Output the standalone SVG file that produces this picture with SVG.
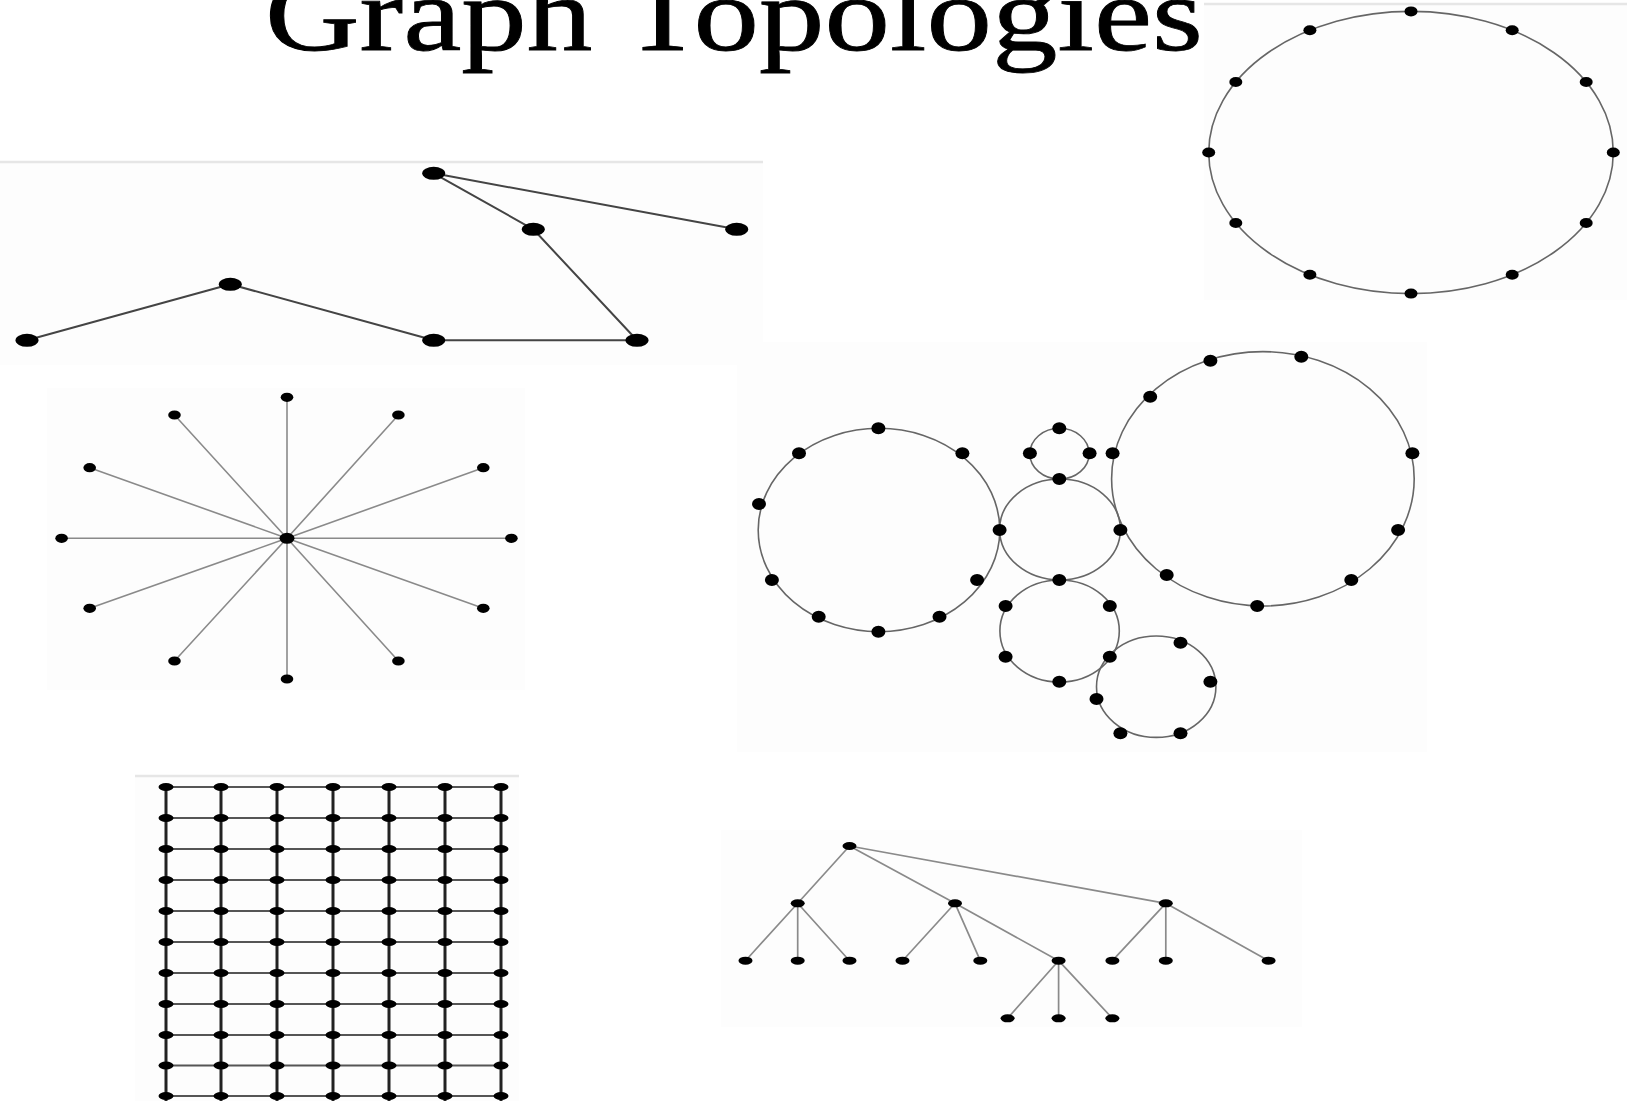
<svg xmlns="http://www.w3.org/2000/svg" xmlns:xlink="http://www.w3.org/1999/xlink" width="1627" height="1101" viewBox="0 0 1627 1101">
<style>
.bg{fill:#fdfdfd}
.rule{stroke:#e6e6e6;stroke-width:2.5}
.title{font-family:"Liberation Serif","DejaVu Serif",serif;font-size:106px;fill:#000;stroke:#000;stroke-width:0.8}
.e1{stroke:#444;stroke-width:2;fill:none}
.e2{stroke:#8a8a8a;stroke-width:1.6;fill:none}
.ring{stroke:#666;stroke-width:1.6;fill:none}
.gv{stroke:#222;stroke-width:3;fill:none}
.gh{stroke:#555;stroke-width:1.8;fill:none}
.tr{stroke:#8a8a8a;stroke-width:1.7;fill:none}
.n{fill:#000}
</style>
<defs>
<ellipse id="dp" rx="11.5" ry="6.5"/>
<ellipse id="dr" rx="6.5" ry="5"/>
<ellipse id="ds" rx="6.3" ry="4.6"/>
<ellipse id="dc" rx="7" ry="6"/>
<ellipse id="dg" rx="7.5" ry="4"/>
<ellipse id="dt" rx="7" ry="4"/>
</defs>
<rect width="1627" height="1101" fill="#fff"/>
<g id="panels">
<rect class="bg" x="1204" y="4" width="423" height="296"/>
<line class="rule" x1="1204" y1="4" x2="1627" y2="4"/>
<rect class="bg" x="0" y="162" width="763" height="203"/>
<line class="rule" x1="0" y1="162" x2="763" y2="162"/>
<rect class="bg" x="47" y="388" width="478" height="302"/>
<rect class="bg" x="737" y="342" width="690" height="410"/>
<rect class="bg" x="721" y="830" width="581" height="197"/>
<rect class="bg" x="135" y="776" width="384" height="325"/>
<line class="rule" x1="135" y1="776" x2="519" y2="776"/>
</g>
<text class="title" x="265" y="50" textLength="938" lengthAdjust="spacingAndGlyphs">Graph Topologies</text>
<g id="connectors">
<ellipse class="ring" cx="1411" cy="152.5" rx="202.3" ry="141.1"/>
<path class="e1" d="M433.7 173.3L533.3 229.3M433.7 173.3L736.7 229.3M533.3 229.3L637 340.3M27 340.3L230.3 284.3M230.3 284.3L433.7 340.3M433.7 340.3L637 340.3"/>
<path class="e2" d="M287 538.3L287 397.3M287 538.3L174.5 415M287 538.3L398.4 415M287 538.3L89.7 467.7M287 538.3L483.3 467.7M287 538.3L61.6 538.3M287 538.3L511.4 538.3M287 538.3L89.7 608.3M287 538.3L483.3 608.3M287 538.3L174.5 661M287 538.3L398.4 661M287 538.3L287 679"/>
<ellipse class="ring" cx="879" cy="530" rx="120.8" ry="101.7"/>
<ellipse class="ring" cx="1059.5" cy="453.7" rx="29.6" ry="25.4"/>
<ellipse class="ring" cx="1060" cy="529.5" rx="60.4" ry="50.5"/>
<ellipse class="ring" cx="1059.6" cy="631" rx="59.7" ry="51"/>
<ellipse class="ring" cx="1156.2" cy="686.7" rx="59.7" ry="50.7"/>
<ellipse class="ring" cx="1262.9" cy="478.8" rx="151.3" ry="127.2"/>
<path class="gv" d="M166 787V1101M221 787V1101M277 787V1101M333 787V1101M389 787V1101M445 787V1101M501 787V1101"/>
<path class="gh" d="M166 787H501M166 818H501M166 849H501M166 880H501M166 911H501M166 942H501M166 973H501M166 1004H501M166 1035H501M166 1065.5H501M166 1096H501"/>
<path class="tr" d="M849.5 846L797.7 903.3M849.5 846L955 903.3M849.5 846L1165.8 903.3M797.7 903.3L745.5 960.7M797.7 903.3L797.7 960.7M797.7 903.3L849.5 960.7M955 903.3L902.5 960.7M955 903.3L980.3 960.7M955 903.3L1058.6 960.7M1165.8 903.3L1112.4 960.7M1165.8 903.3L1165.8 960.7M1165.8 903.3L1268.6 960.7M1058.6 960.7L1007.6 1018.3M1058.6 960.7L1058.6 1018.3M1058.6 960.7L1112.4 1018.3"/>
</g>
<g id="ring-nodes" class="n">
<g id="r0"><use href="#dr" x="1411" y="11.4"/></g>
<g id="r1"><use href="#dr" x="1512.2" y="30.3"/></g>
<g id="r2"><use href="#dr" x="1586.2" y="82"/></g>
<g id="r3"><use href="#dr" x="1613.3" y="152.5"/></g>
<g id="r4"><use href="#dr" x="1586.2" y="223"/></g>
<g id="r5"><use href="#dr" x="1512.2" y="274.7"/></g>
<g id="r6"><use href="#dr" x="1411" y="293.6"/></g>
<g id="r7"><use href="#dr" x="1309.9" y="274.7"/></g>
<g id="r8"><use href="#dr" x="1235.8" y="223"/></g>
<g id="r9"><use href="#dr" x="1208.7" y="152.5"/></g>
<g id="r10"><use href="#dr" x="1235.8" y="82"/></g>
<g id="r11"><use href="#dr" x="1309.9" y="30.3"/></g>
</g>
<g id="path-nodes" class="n">
<g id="p1"><use href="#dp" x="433.7" y="173.3"/></g>
<g id="p2"><use href="#dp" x="533.3" y="229.3"/></g>
<g id="p3"><use href="#dp" x="736.7" y="229.3"/></g>
<g id="p4"><use href="#dp" x="230.3" y="284.3"/></g>
<g id="p5"><use href="#dp" x="27" y="340.3"/></g>
<g id="p6"><use href="#dp" x="433.7" y="340.3"/></g>
<g id="p7"><use href="#dp" x="637" y="340.3"/></g>
</g>
<g id="star-nodes" class="n">
<g id="s0"><ellipse cx="287" cy="538.3" rx="7.5" ry="5.5"/></g>
<g id="s1"><use href="#ds" x="287" y="397.3"/></g>
<g id="s2"><use href="#ds" x="174.5" y="415"/></g>
<g id="s3"><use href="#ds" x="398.4" y="415"/></g>
<g id="s4"><use href="#ds" x="89.7" y="467.7"/></g>
<g id="s5"><use href="#ds" x="483.3" y="467.7"/></g>
<g id="s6"><use href="#ds" x="61.6" y="538.3"/></g>
<g id="s7"><use href="#ds" x="511.4" y="538.3"/></g>
<g id="s8"><use href="#ds" x="89.7" y="608.3"/></g>
<g id="s9"><use href="#ds" x="483.3" y="608.3"/></g>
<g id="s10"><use href="#ds" x="174.5" y="661"/></g>
<g id="s11"><use href="#ds" x="398.4" y="661"/></g>
<g id="s12"><use href="#ds" x="287" y="679"/></g>
</g>
<g id="rings-nodes" class="n">
<g id="c1"><use href="#dc" x="878.4" y="428.3"/></g>
<g id="c2"><use href="#dc" x="799" y="453.3"/></g>
<g id="c3"><use href="#dc" x="962.4" y="453.3"/></g>
<g id="c4"><use href="#dc" x="759" y="504"/></g>
<g id="c5"><use href="#dc" x="999.6" y="530"/></g>
<g id="c6"><use href="#dc" x="771.9" y="580"/></g>
<g id="c7"><use href="#dc" x="977.1" y="580"/></g>
<g id="c8"><use href="#dc" x="818.7" y="616.7"/></g>
<g id="c9"><use href="#dc" x="939.5" y="616.7"/></g>
<g id="c10"><use href="#dc" x="878.4" y="631.7"/></g>
<g id="c11"><use href="#dc" x="1059.3" y="428.3"/></g>
<g id="c12"><use href="#dc" x="1029.9" y="453.3"/></g>
<g id="c13"><use href="#dc" x="1089.6" y="453.3"/></g>
<g id="c14"><use href="#dc" x="1059.3" y="479"/></g>
<g id="c15"><use href="#dc" x="1120.4" y="530"/></g>
<g id="c16"><use href="#dc" x="1059.3" y="580"/></g>
<g id="c17"><use href="#dc" x="1005.6" y="606"/></g>
<g id="c18"><use href="#dc" x="1109.8" y="606"/></g>
<g id="c19"><use href="#dc" x="1005.6" y="656.7"/></g>
<g id="c20"><use href="#dc" x="1109.8" y="656.7"/></g>
<g id="c21"><use href="#dc" x="1059.3" y="681.7"/></g>
<g id="c22"><use href="#dc" x="1180.5" y="642.7"/></g>
<g id="c23"><use href="#dc" x="1210.4" y="681.7"/></g>
<g id="c24"><use href="#dc" x="1096.5" y="699"/></g>
<g id="c25"><use href="#dc" x="1120.4" y="733.3"/></g>
<g id="c26"><use href="#dc" x="1180.5" y="733.3"/></g>
<g id="c27"><use href="#dc" x="1210.4" y="360.7"/></g>
<g id="c28"><use href="#dc" x="1301.3" y="356.7"/></g>
<g id="c29"><use href="#dc" x="1150.2" y="396.7"/></g>
<g id="c30"><use href="#dc" x="1112.6" y="453.3"/></g>
<g id="c31"><use href="#dc" x="1412.4" y="453.3"/></g>
<g id="c32"><use href="#dc" x="1398.1" y="530"/></g>
<g id="c33"><use href="#dc" x="1166.7" y="575"/></g>
<g id="c34"><use href="#dc" x="1351.3" y="580"/></g>
<g id="c35"><use href="#dc" x="1257.2" y="606"/></g>
</g>
<g id="mesh-nodes" class="n">
<g id="m0-0"><use href="#dg" x="166" y="787"/></g><g id="m0-1"><use href="#dg" x="221" y="787"/></g><g id="m0-2"><use href="#dg" x="277" y="787"/></g><g id="m0-3"><use href="#dg" x="333" y="787"/></g><g id="m0-4"><use href="#dg" x="389" y="787"/></g><g id="m0-5"><use href="#dg" x="445" y="787"/></g><g id="m0-6"><use href="#dg" x="501" y="787"/></g>
<g id="m1-0"><use href="#dg" x="166" y="818"/></g><g id="m1-1"><use href="#dg" x="221" y="818"/></g><g id="m1-2"><use href="#dg" x="277" y="818"/></g><g id="m1-3"><use href="#dg" x="333" y="818"/></g><g id="m1-4"><use href="#dg" x="389" y="818"/></g><g id="m1-5"><use href="#dg" x="445" y="818"/></g><g id="m1-6"><use href="#dg" x="501" y="818"/></g>
<g id="m2-0"><use href="#dg" x="166" y="849"/></g><g id="m2-1"><use href="#dg" x="221" y="849"/></g><g id="m2-2"><use href="#dg" x="277" y="849"/></g><g id="m2-3"><use href="#dg" x="333" y="849"/></g><g id="m2-4"><use href="#dg" x="389" y="849"/></g><g id="m2-5"><use href="#dg" x="445" y="849"/></g><g id="m2-6"><use href="#dg" x="501" y="849"/></g>
<g id="m3-0"><use href="#dg" x="166" y="880"/></g><g id="m3-1"><use href="#dg" x="221" y="880"/></g><g id="m3-2"><use href="#dg" x="277" y="880"/></g><g id="m3-3"><use href="#dg" x="333" y="880"/></g><g id="m3-4"><use href="#dg" x="389" y="880"/></g><g id="m3-5"><use href="#dg" x="445" y="880"/></g><g id="m3-6"><use href="#dg" x="501" y="880"/></g>
<g id="m4-0"><use href="#dg" x="166" y="911"/></g><g id="m4-1"><use href="#dg" x="221" y="911"/></g><g id="m4-2"><use href="#dg" x="277" y="911"/></g><g id="m4-3"><use href="#dg" x="333" y="911"/></g><g id="m4-4"><use href="#dg" x="389" y="911"/></g><g id="m4-5"><use href="#dg" x="445" y="911"/></g><g id="m4-6"><use href="#dg" x="501" y="911"/></g>
<g id="m5-0"><use href="#dg" x="166" y="942"/></g><g id="m5-1"><use href="#dg" x="221" y="942"/></g><g id="m5-2"><use href="#dg" x="277" y="942"/></g><g id="m5-3"><use href="#dg" x="333" y="942"/></g><g id="m5-4"><use href="#dg" x="389" y="942"/></g><g id="m5-5"><use href="#dg" x="445" y="942"/></g><g id="m5-6"><use href="#dg" x="501" y="942"/></g>
<g id="m6-0"><use href="#dg" x="166" y="973"/></g><g id="m6-1"><use href="#dg" x="221" y="973"/></g><g id="m6-2"><use href="#dg" x="277" y="973"/></g><g id="m6-3"><use href="#dg" x="333" y="973"/></g><g id="m6-4"><use href="#dg" x="389" y="973"/></g><g id="m6-5"><use href="#dg" x="445" y="973"/></g><g id="m6-6"><use href="#dg" x="501" y="973"/></g>
<g id="m7-0"><use href="#dg" x="166" y="1004"/></g><g id="m7-1"><use href="#dg" x="221" y="1004"/></g><g id="m7-2"><use href="#dg" x="277" y="1004"/></g><g id="m7-3"><use href="#dg" x="333" y="1004"/></g><g id="m7-4"><use href="#dg" x="389" y="1004"/></g><g id="m7-5"><use href="#dg" x="445" y="1004"/></g><g id="m7-6"><use href="#dg" x="501" y="1004"/></g>
<g id="m8-0"><use href="#dg" x="166" y="1035"/></g><g id="m8-1"><use href="#dg" x="221" y="1035"/></g><g id="m8-2"><use href="#dg" x="277" y="1035"/></g><g id="m8-3"><use href="#dg" x="333" y="1035"/></g><g id="m8-4"><use href="#dg" x="389" y="1035"/></g><g id="m8-5"><use href="#dg" x="445" y="1035"/></g><g id="m8-6"><use href="#dg" x="501" y="1035"/></g>
<g id="m9-0"><use href="#dg" x="166" y="1065.5"/></g><g id="m9-1"><use href="#dg" x="221" y="1065.5"/></g><g id="m9-2"><use href="#dg" x="277" y="1065.5"/></g><g id="m9-3"><use href="#dg" x="333" y="1065.5"/></g><g id="m9-4"><use href="#dg" x="389" y="1065.5"/></g><g id="m9-5"><use href="#dg" x="445" y="1065.5"/></g><g id="m9-6"><use href="#dg" x="501" y="1065.5"/></g>
<g id="m10-0"><use href="#dg" x="166" y="1096"/></g><g id="m10-1"><use href="#dg" x="221" y="1096"/></g><g id="m10-2"><use href="#dg" x="277" y="1096"/></g><g id="m10-3"><use href="#dg" x="333" y="1096"/></g><g id="m10-4"><use href="#dg" x="389" y="1096"/></g><g id="m10-5"><use href="#dg" x="445" y="1096"/></g><g id="m10-6"><use href="#dg" x="501" y="1096"/></g>
</g>
<g id="tree-nodes" class="n">
<g id="t0"><use href="#dt" x="849.5" y="846"/></g>
<g id="t1"><use href="#dt" x="797.7" y="903.3"/></g>
<g id="t2"><use href="#dt" x="955" y="903.3"/></g>
<g id="t3"><use href="#dt" x="1165.8" y="903.3"/></g>
<g id="t4"><use href="#dt" x="745.5" y="960.7"/></g>
<g id="t5"><use href="#dt" x="797.7" y="960.7"/></g>
<g id="t6"><use href="#dt" x="849.5" y="960.7"/></g>
<g id="t7"><use href="#dt" x="902.5" y="960.7"/></g>
<g id="t8"><use href="#dt" x="980.3" y="960.7"/></g>
<g id="t9"><use href="#dt" x="1058.6" y="960.7"/></g>
<g id="t10"><use href="#dt" x="1112.4" y="960.7"/></g>
<g id="t11"><use href="#dt" x="1165.8" y="960.7"/></g>
<g id="t12"><use href="#dt" x="1268.6" y="960.7"/></g>
<g id="t13"><use href="#dt" x="1007.6" y="1018.3"/></g>
<g id="t14"><use href="#dt" x="1058.6" y="1018.3"/></g>
<g id="t15"><use href="#dt" x="1112.4" y="1018.3"/></g>
</g>
</svg>
